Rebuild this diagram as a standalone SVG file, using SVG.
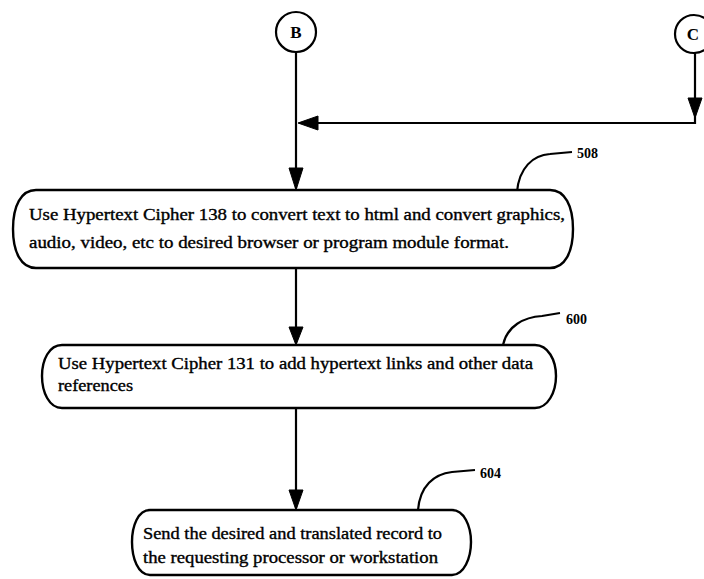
<svg xmlns="http://www.w3.org/2000/svg" width="704" height="579" viewBox="0 0 704 579">
<style>
.ln{fill:none;stroke:#000;stroke-width:2.2}
.box{fill:#fff;stroke:#000;stroke-width:2.4}
.t{font-family:"Liberation Serif","Times New Roman",serif;font-size:16px;fill:#000;stroke:#000;stroke-width:0.35}
.ref{font-family:"Liberation Serif","Times New Roman",serif;font-size:14px;font-weight:bold;fill:#000}
.cl{font-family:"Liberation Serif","Times New Roman",serif;font-size:17px;font-weight:bold;fill:#000}
.ah{fill:#000;stroke:#000;stroke-width:1}
</style>
<rect width="704" height="579" fill="#fff"/>
<g id="connectors">
  <line class="ln" x1="296" y1="52" x2="296" y2="188"/>
  <polygon class="ah" points="289,168 303,168 296,190"/>
  <polyline class="ln" points="695,53 695,123 300,123"/>
  <polygon class="ah" points="688,98 702,98 695,118"/>
  <polygon class="ah" points="318,116 318,130 298,123"/>
  <line class="ln" x1="296" y1="268" x2="296" y2="343"/>
  <polygon class="ah" points="289,327 303,327 296,345"/>
  <line class="ln" x1="296" y1="408" x2="296" y2="508"/>
  <polygon class="ah" points="289,490 303,490 296,510"/>
  <path class="ln" d="M517,192 C519,168 533,155 550,154 L572,152"/>
  <path class="ln" d="M503,345 C507,326 524,317 542,316 L560,313"/>
  <path class="ln" d="M418,510 C420,486 434,474 452,472 L475,470"/>
</g>
<g id="nodeB">
  <circle class="ln" cx="296" cy="32" r="20"/>
  <text class="cl" x="296" y="38" text-anchor="middle">B</text>
</g>
<g id="nodeC">
  <circle class="ln" cx="694" cy="34" r="19"/>
  <text class="cl" x="693" y="40" text-anchor="middle">C</text>
</g>
<g id="step508">
  <path class="box" d="M36,190 H550 C565,190 573,206 573,229 C573,252 565,268 550,268 H36 C21,268 13,252 13,229 C13,206 21,190 36,190 Z"/>
  <text class="t" x="29" y="220" textLength="536" lengthAdjust="spacingAndGlyphs">Use Hypertext Cipher 138 to convert text to html and convert graphics,</text>
  <text class="t" x="29" y="248" textLength="480" lengthAdjust="spacingAndGlyphs">audio, video, etc to desired browser or program module format.</text>
  <text class="ref" x="577" y="158">508</text>
</g>
<g id="step600">
  <path class="box" d="M62,345 H535 C548,345 556,360 556,376 C556,392 548,408 535,408 H62 C49,408 42,392 42,376 C42,360 49,345 62,345 Z"/>
  <text class="t" x="58" y="369" textLength="475" lengthAdjust="spacingAndGlyphs">Use Hypertext Cipher 131 to add hypertext links and other data</text>
  <text class="t" x="58" y="391" textLength="75" lengthAdjust="spacingAndGlyphs">references</text>
  <text class="ref" x="566" y="324">600</text>
</g>
<g id="step604">
  <path class="box" d="M150,510 H452 C464,510 471,526 471,542 C471,558 464,575 452,575 H150 C138,575 132,558 132,542 C132,526 138,510 150,510 Z"/>
  <text class="t" x="143" y="539" textLength="299" lengthAdjust="spacingAndGlyphs">Send the desired and translated record to</text>
  <text class="t" x="143" y="563" textLength="295" lengthAdjust="spacingAndGlyphs">the requesting processor or workstation</text>
  <text class="ref" x="480" y="478">604</text>
</g>
</svg>
